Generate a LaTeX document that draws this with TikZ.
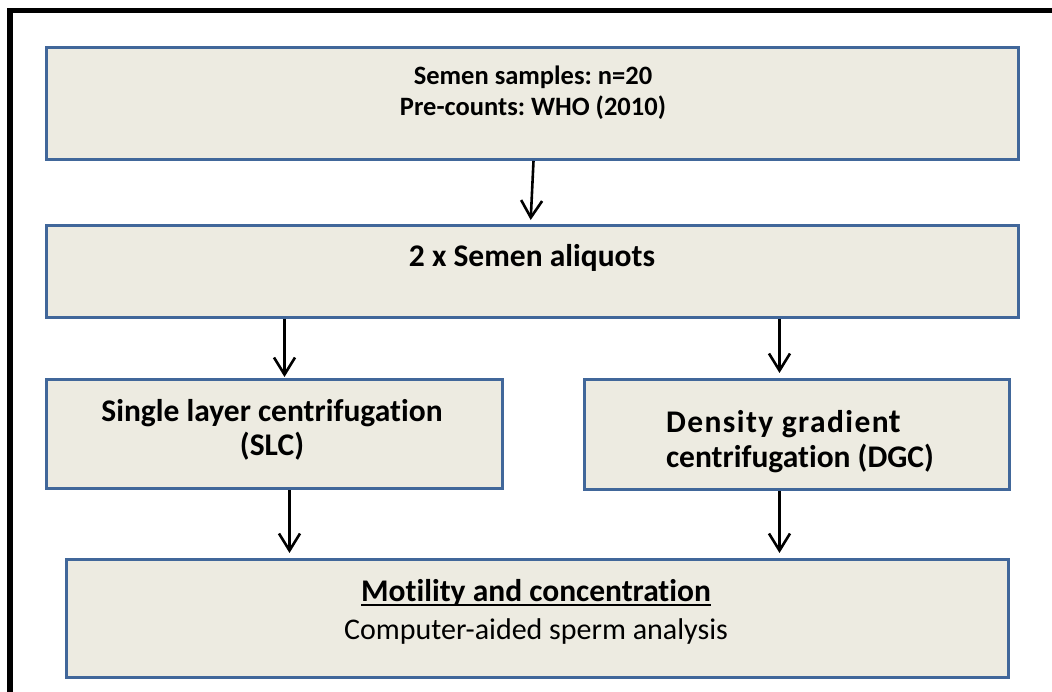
\documentclass[tikz,border=0pt]{standalone}
\usepackage{fontspec}
\setmainfont[RawFeature=-liga]{Carlito}
\usetikzlibrary{arrows.meta}
\definecolor{boxblue}{HTML}{41679A}
\definecolor{boxfill}{HTML}{EDEBE1}
\frenchspacing
% heavy underline that sits just below the baseline
\newcommand\heavyunder[1]{\setbox0\hbox{#1}\rlap{\rule[-4.5pt]{\wd0}{2.4pt}}\box0}
\begin{document}
\begin{tikzpicture}[x=1pt,y=-1pt,
  stage/.style={draw=boxblue, line width=3pt, fill=boxfill, rectangle,
    inner sep=0pt, anchor=north west},
  flow/.style={-{Straight Barb[length=17pt,width=21pt,line width=2.6pt]},
    line width=2.6pt, black},
  title/.style={font=\bfseries\fontsize{31.5}{34}\selectfont, align=center}]
\useasboundingbox (0,0) rectangle (1052,692);
% outer frame
\draw[line width=5.5pt] (10,700) -- (10,10.5) -- (1060,10.5);

% stages
\node[stage, minimum width=972pt, minimum height=112pt] (samples) at (45,46) {};
\node[stage, minimum width=972pt, minimum height=92pt] (aliquots) at (45,224) {};
\node[stage, minimum width=456pt, minimum height=109pt] (slc) at (45,378) {};
\node[stage, minimum width=425pt, minimum height=110pt] (dgc) at (583,378) {};
\node[stage, minimum width=942pt, minimum height=118pt] (analysis) at (65,558) {};

% labels
\node[title, font=\bfseries\fontsize{26.5}{31}\selectfont] (samplesText) at (533,93)
  {Semen samples: n=20\\Pre-counts: WHO (2010)};
\node[title] (aliquotsText) at (532,258) {2 x Semen aliquots};
\node[title] (slcText) at (272,430) {Single layer centrifugation\\(SLC)};
\node[title, align=left, font=\bfseries\fontsize{31.5}{35}\selectfont] (dgcText) at (800,442)
  {{\addfontfeature{LetterSpace=4.5}Density gradien}{\fontsize{34}{35}\selectfont t}\\centrifugation (DGC)};
\node[align=center, font=\fontsize{30}{38}\selectfont] (analysisText) at (536,612)
  {\textbf{\fontsize{31.5}{38}\selectfont\heavyunder{Motility and concentration}}\\Computer-aided sperm analysis};

% flow
\draw[flow, shorten >=4pt] ([xshift=1pt]samples.south) -- ([xshift=-2pt]aliquots.north);
\draw[flow, shorten >=1pt] ([xshift=10pt]slc.north |- aliquots.south) -- ([xshift=10pt]slc.north);
\draw[flow, shorten >=5pt] ([xshift=-17.5pt]dgc.north |- aliquots.south) -- ([xshift=-17.5pt]dgc.north);
\draw[flow, shorten >=5pt] ([xshift=15pt]slc.south) -- ([xshift=15pt]slc.south |- analysis.north);
\draw[flow, shorten >=5pt] ([xshift=-17.5pt]dgc.south) -- ([xshift=-17.5pt]dgc.south |- analysis.north);
\end{tikzpicture}
\end{document}
